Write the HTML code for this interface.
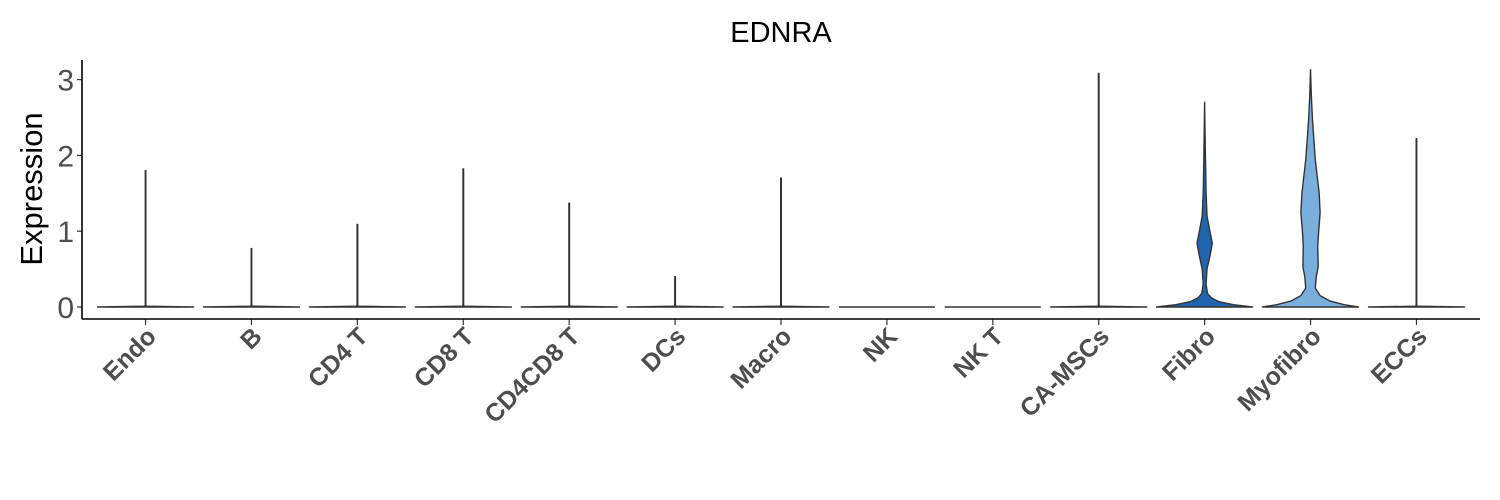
<!DOCTYPE html>
<html><head><meta charset="utf-8"><style>
html,body{margin:0;padding:0;background:#fff;width:1500px;height:500px;overflow:hidden}
svg{display:block;font-family:"Liberation Sans",Arial,sans-serif}
</style></head><body>
<svg id="chart" width="1500" height="500" viewBox="0 0 1500 500">
<text x="781" y="42" text-anchor="middle" font-size="29" fill="#000">EDNRA</text>
<text transform="translate(42,189) rotate(-90)" text-anchor="middle" font-size="31" fill="#000">Expression</text>
<g id="plot"></g>
</svg>
<script>
const categories = ["Endo","B","CD4 T","CD8 T","CD4CD8 T","DCs","Macro","NK","NK T","CA-MSCs","Fibro","Myofibro","ECCs"];
const maxValues = [1.80,0.77,1.09,1.82,1.37,0.40,1.70,0,0,3.08,2.70,3.13,2.22];
const fills = ["#f8766d","#e58700","#c99800","#a3a500","#6bb100","#00ba38","#00c0af","#00bcd8","#00b0f6","#619cff","#1f65b0","#7aafdd","#e76bf3"];
const yTicks = [0,1,2,3];
const fibroLevels = [0,0.03,0.07,0.12,0.18,0.3,0.5,0.7,0.84,1.0,1.2,1.5,2.0,2.7];
const fibroWidths = [1,0.6,0.3,0.14,0.06,0.03,0.05,0.12,0.16,0.11,0.05,0.03,0.015,0];
const myoLevels = [0,0.03,0.08,0.15,0.25,0.4,0.53,0.8,1.0,1.24,1.5,1.94,2.2,2.47,2.8,3.13];
const myoWidths = [1,0.7,0.4,0.2,0.1,0.12,0.16,0.15,0.17,0.2,0.18,0.1,0.07,0.04,0.015,0];
const flatLevels = [0,0.01,0.03,1];
const flatWidths = [1,0.015,0.006,0.006];

const NS="http://www.w3.org/2000/svg";
const plot=document.getElementById('plot');
const X0=82,X1=1480,Ytop=60,Ybot=319;
const step=(X1-X0)/(categories.length+0.2);
const xScale=i=>X0+step*(i+0.6);
const yScale=v=>307-v*75.8;
const HW=48;
function mk(t,a){const e=document.createElementNS(NS,t);for(const k in a)e.setAttribute(k,a[k]);plot.appendChild(e);return e;}

categories.forEach((c,i)=>{
  const cx=xScale(i), mx=maxValues[i];
  let lv,wd;
  if(c==="Fibro"){lv=fibroLevels;wd=fibroWidths;}
  else if(c==="Myofibro"){lv=myoLevels;wd=myoWidths;}
  else {lv=flatLevels.slice();wd=flatWidths.slice();lv[lv.length-1]=mx;}
  if(mx===0){
    const p=mk('line',{x1:cx-HW,x2:cx+HW,y1:yScale(0),y2:yScale(0),stroke:'#333',"stroke-width":1.6});
    
    
  } else {
    let pts=[];
    for(let k=0;k<lv.length;k++)pts.push([cx+wd[k]*HW,yScale(lv[k])]);
    for(let k=lv.length-1;k>=0;k--)pts.push([cx-wd[k]*HW,yScale(lv[k])]);
    const p=mk('path',{d:'M'+pts.map(q=>q[0].toFixed(1)+','+q[1].toFixed(1)).join('L')+'Z',fill:fills[i],stroke:'#333',"stroke-width":1.4,"stroke-linejoin":"round"});
    
    
  }
  const t=mk('line',{x1:cx,x2:cx,y1:Ybot,y2:Ybot+6,stroke:'#333',"stroke-width":1.2});
  
  
  const l=mk('text',{transform:`translate(${cx+12},${Ybot+19}) rotate(-45)`,"text-anchor":"end","font-size":25,"font-weight":"bold",fill:"#4d4d4d"});
  l.textContent=c;
  
  
});
yTicks.forEach(v=>{
  const y=yScale(v);
  const t=mk('line',{x1:X0-5,x2:X0,y1:y,y2:y,stroke:'#333',"stroke-width":1.2});
  
  
  const l=mk('text',{x:X0-8,y:y+11,"text-anchor":"end","font-size":30,fill:"#4d4d4d"});
  l.textContent=v;
  
  
});
const ya=mk('line',{x1:X0,x2:X0,y1:Ytop,y2:Ybot,stroke:'#000',"stroke-width":1.6});


const xa=mk('line',{x1:X0,x2:X1,y1:Ybot,y2:Ybot,stroke:'#000',"stroke-width":1.6});


</script>
</body></html>
